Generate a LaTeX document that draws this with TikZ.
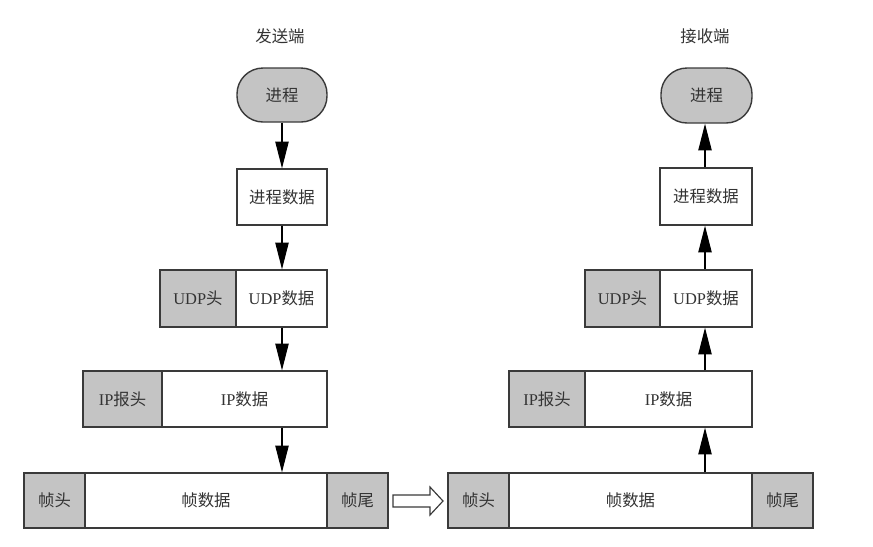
\documentclass[tikz,border=0pt]{standalone}
\usepackage{fontspec}
\setmainfont{Liberation Serif}
\newfontfamily\cjk{Noto Sans CJK SC}
\usetikzlibrary{arrows.meta}
\definecolor{linec}{HTML}{3A3A3A}
\definecolor{grayc}{HTML}{C4C4C4}
\definecolor{textc}{HTML}{333333}
\tikzset{
  cell/.style={draw=linec, line width=1.2pt, inner sep=0pt, text=textc,
    font=\fontsize{14}{14}\selectfont},
  hdr/.style={cell, fill=grayc},
  dat/.style={cell, fill=white},
  proc/.style={hdr, rounded corners=0.78cm},
  arr/.style={draw=black, line width=0.9pt, -{Triangle[length=0.8cm,width=0.4cm]}},
  ttl/.style={text=textc, font=\fontsize{14}{14}\selectfont\cjk},
}
% box from (x1,y1) to (x2,y2) in pixel units
\newcommand{\cellbox}[7]{%
  \node[#1, minimum width={(#5-#3)*0.03cm}, minimum height={(#6-#4)*0.03cm}]
    (#2) at ({(#3+#5)/2},{(#4+#6)/2}) {#7};}
\begin{document}
\begin{tikzpicture}[x=0.03cm,y=-0.03cm]
\useasboundingbox (0,0) rectangle (873,546);
% titles
\node[ttl] (tl) at (280,36) {发送端};
\node[ttl] (tr) at (705,36) {接收端};
% sender
\cellbox{proc}{sp}{237}{68}{327}{122}{\cjk 进程}
\cellbox{dat}{sd}{237}{169}{327}{225}{\cjk 进程数据}
\cellbox{hdr}{suh}{160}{270}{236}{327}{UDP\cjk 头}
\cellbox{dat}{sud}{236}{270}{327}{327}{UDP\cjk 数据}
\cellbox{hdr}{sih}{83}{371}{162}{427}{IP\cjk 报头}
\cellbox{dat}{sid}{162}{371}{327}{427}{IP\cjk 数据}
\cellbox{hdr}{sfh}{24}{473}{85}{528}{\cjk 帧头}
\cellbox{dat}{sfd}{85}{473}{327}{528}{\cjk 帧数据}
\cellbox{hdr}{sft}{327}{473}{388}{528}{\cjk 帧尾}
\draw[arr] (sp.south) -- (sd.north);
\draw[arr] (sd.south) -- (sd.south |- sud.north);
\draw[arr] (sd.south |- sud.south) -- (sd.south |- sid.north);
\draw[arr] (sd.south |- sid.south) -- (sd.south |- sfd.north);
% receiver
\cellbox{proc}{rp}{661}{68}{752}{123}{\cjk 进程}
\cellbox{dat}{rd}{660}{168}{752}{225}{\cjk 进程数据}
\cellbox{hdr}{ruh}{585}{270}{660}{327}{UDP\cjk 头}
\cellbox{dat}{rud}{660}{270}{752}{327}{UDP\cjk 数据}
\cellbox{hdr}{rih}{509}{371}{585}{427}{IP\cjk 报头}
\cellbox{dat}{rid}{585}{371}{752}{427}{IP\cjk 数据}
\cellbox{hdr}{rfh}{448}{473}{509}{528}{\cjk 帧头}
\cellbox{dat}{rfd}{509}{473}{752}{528}{\cjk 帧数据}
\cellbox{hdr}{rft}{752}{473}{813}{528}{\cjk 帧尾}
\coordinate (rx) at (705,0);
\draw[arr] (rx |- rfd.north) -- (rx |- rid.south);
\draw[arr] (rx |- rid.north) -- (rx |- rud.south);
\draw[arr] (rx |- rud.north) -- (rx |- rd.south);
\draw[arr] (rx |- rd.north) -- (rx |- rp.south);
% hollow transfer arrow
\draw[draw=linec, line width=1pt, fill=white, line join=miter]
  (393,495) -- (430,495) -- (430,487) -- (443,501) -- (430,515) -- (430,507) -- (393,507) -- cycle;
\end{tikzpicture}
\end{document}
